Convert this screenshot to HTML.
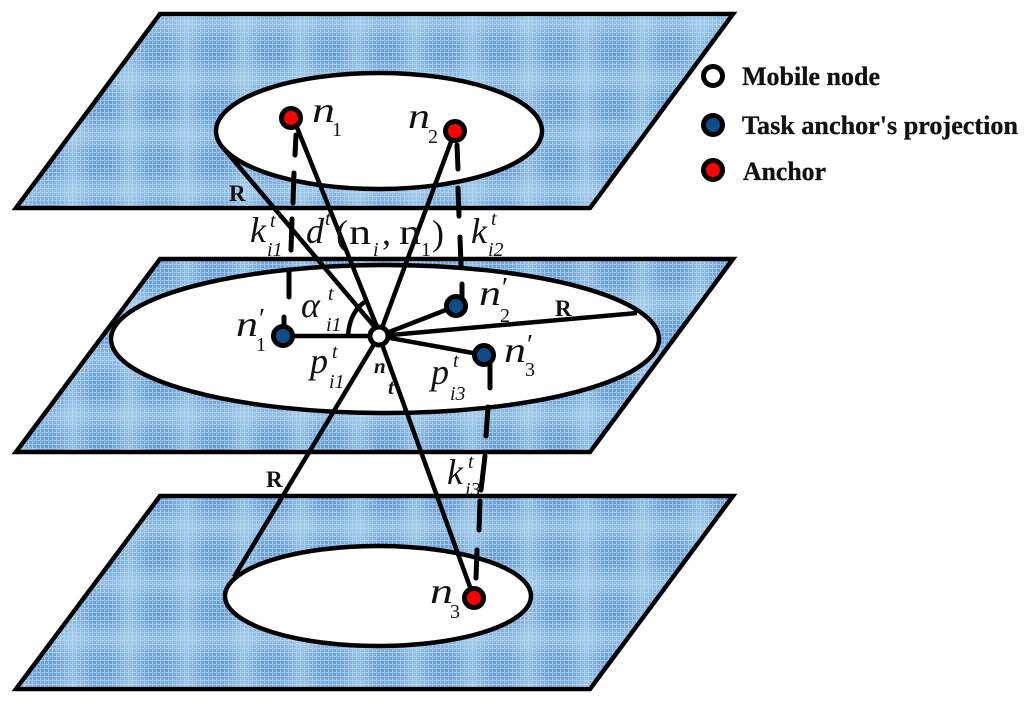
<!DOCTYPE html>
<html><head><meta charset="utf-8"><style>
html,body{margin:0;padding:0;background:#fff}
svg{display:block}
text{font-family:"Liberation Serif",serif;fill:#111}
.m{font-style:italic;font-size:36px}
.r{font-size:36px}
.s{font-size:20px}
.t{font-style:italic;font-size:20px}
.b{font-weight:bold;font-size:26px;stroke:#111;stroke-width:.3px}
.R{font-weight:bold;font-size:23px}
.B{font-weight:bold;font-style:italic;font-size:21px}
</style></head><body>
<svg width="1024" height="707" viewBox="0 0 1024 707" xmlns="http://www.w3.org/2000/svg">
<defs>
<linearGradient id="vb" x1="0" x2="1" y1="0" y2="0"><stop offset="0" stop-color="#c4e4f8" stop-opacity="0"/><stop offset=".5" stop-color="#c4e4f8" stop-opacity=".42"/><stop offset="1" stop-color="#c4e4f8" stop-opacity="0"/></linearGradient>
<linearGradient id="hb" x1="0" x2="0" y1="0" y2="1"><stop offset="0" stop-color="#c4e4f8" stop-opacity="0"/><stop offset=".5" stop-color="#c4e4f8" stop-opacity=".42"/><stop offset="1" stop-color="#c4e4f8" stop-opacity="0"/></linearGradient>
<pattern id="g" width="4" height="4" patternUnits="userSpaceOnUse">
<rect width="4" height="4" fill="#6e9fd3"/><rect width="1" height="4" fill="#98c1e8"/><rect width="4" height="1" fill="#98c1e8"/>
</pattern>
<pattern id="p" x="102" y="499" width="57" height="56" patternUnits="userSpaceOnUse">
<rect x="8" width="40" height="56" fill="url(#vb)"/>
<rect y="8" width="57" height="40" fill="url(#hb)"/>
</pattern>
</defs>
<rect width="1024" height="707" fill="#fff"/>
<g stroke="#000" stroke-width="4.5">
<polygon fill="url(#g)" points="160,14 733,14 590,208 16,208"/>
<polygon fill="url(#g)" points="160,259 733,259 590,452 16,452"/>
<polygon fill="url(#g)" points="160,496 733,496 590,689 16,689"/>
</g>
<g fill="url(#p)">
<polygon points="161,16 729,16 589,206 20,206"/>
<polygon points="161,261 729,261 589,450 20,450"/>
<polygon points="161,498 729,498 589,687 20,687"/>
</g>
<g stroke="#000" stroke-width="4.5" fill="#fff">
<ellipse cx="379" cy="131" rx="163" ry="58"/>
<ellipse cx="385" cy="339" rx="274" ry="74"/>
<ellipse cx="378" cy="596" rx="153" ry="50"/>
</g>
<g stroke="#000" stroke-width="4.5" fill="none">
<line x1="225" y1="150" x2="379" y2="332"/>
<line x1="296" y1="125" x2="379" y2="332"/>
<line x1="379" y1="336" x2="455" y2="131"/>
<line x1="379" y1="336" x2="456" y2="306"/>
<line x1="379" y1="336" x2="637" y2="313"/>
<line x1="379" y1="336" x2="484" y2="355"/>
<line x1="379" y1="336" x2="283" y2="336"/>
<line x1="379" y1="336" x2="234" y2="577"/>
<line x1="379" y1="336" x2="474" y2="598"/>
<path d="M348,336 C349,320 355,308 366,301"/>
</g>
<g stroke="#000" stroke-width="5" stroke-linecap="round" fill="none">
<path d="M296,135 L295,155 M294,173 L293,203 M292,219 L291,250 M289,270 L289,297 M284,317 L284,330"/>
<path d="M457,145 L458,169 M458,188 L459,216 M460,237 L461,265 M462,284 L462,306"/>
<path d="M490,365 L490,388 M488,407 L486,436 M485,456 L481,490 M480,501 L479,530 M477,550 L476,578"/>
</g>
<g stroke="#000" stroke-width="5">
<circle cx="291" cy="118" r="9.5" fill="#f00"/>
<circle cx="455" cy="131" r="9.5" fill="#f00"/>
<circle cx="474" cy="598" r="9.5" fill="#f00"/>
<circle cx="283" cy="336" r="9.5" fill="#0f4c8a"/>
<circle cx="456" cy="306" r="9.5" fill="#0f4c8a"/>
<circle cx="484" cy="355" r="9.5" fill="#0f4c8a"/>
<circle cx="379" cy="336" r="9" fill="#fff"/>
<circle cx="713" cy="76" r="9.5" fill="#fff"/>
<circle cx="713" cy="125" r="9.5" fill="#0f4c8a"/>
<circle cx="713" cy="170" r="9.5" fill="#f00"/>
</g>
<text class="b" x="742" y="85" textLength="138" lengthAdjust="spacingAndGlyphs">Mobile node</text>
<text class="b" x="742" y="134" textLength="276" lengthAdjust="spacingAndGlyphs">Task anchor's projection</text>
<text class="b" x="743" y="180" textLength="83" lengthAdjust="spacingAndGlyphs">Anchor</text>
<text class="R" x="229" y="201">R</text>
<text class="R" x="555" y="316">R</text>
<text class="R" x="266" y="487">R</text>
<text class="m" x="312" y="122" textLength="23" lengthAdjust="spacingAndGlyphs">n</text><text class="s" x="332" y="136">1</text>
<text class="m" x="408" y="128" textLength="22" lengthAdjust="spacingAndGlyphs">n</text><text class="s" x="428" y="143">2</text>
<text class="m" x="430" y="603" textLength="23" lengthAdjust="spacingAndGlyphs">n</text><text class="s" x="450" y="618">3</text>
<text class="m" x="236" y="336" textLength="22" lengthAdjust="spacingAndGlyphs">n</text><text x="259" y="328" style="font-size:28px">′</text><text class="s" x="256" y="351">1</text>
<text class="m" x="479" y="305" textLength="22" lengthAdjust="spacingAndGlyphs">n</text><text x="502" y="297" style="font-size:28px">′</text><text class="s" x="500" y="322">2</text>
<text class="m" x="504" y="362" textLength="22" lengthAdjust="spacingAndGlyphs">n</text><text x="527" y="354" style="font-size:28px">′</text><text class="s" x="525" y="376">3</text>
<text class="m" x="250" y="242">k</text><text class="t" x="270" y="227">t</text><text class="t" x="267" y="256">i1</text>
<text class="m" x="471" y="243">k</text><text class="t" x="491" y="225">t</text><text class="t" x="488" y="256">i2</text>
<text class="m" x="447" y="484">k</text><text class="t" x="468" y="468">t</text><text class="t" x="465" y="496">i3</text>
<text class="m" x="306" y="243">d</text><text class="t" x="325" y="225">t</text>
<text class="r" x="336" y="245">(</text><text class="r" x="349" y="244" textLength="22" lengthAdjust="spacingAndGlyphs">n</text><text class="t" x="373" y="256">i</text><text class="r" x="382" y="244">,</text><text class="r" x="399" y="244" textLength="22" lengthAdjust="spacingAndGlyphs">n</text><text class="s" x="421" y="256">1</text><text class="r" x="432" y="245">)</text>
<text class="m" x="301" y="317">α</text><text class="t" x="328" y="300">t</text><text class="t" x="326" y="331">i1</text>
<text class="m" x="310" y="373">p</text><text class="t" x="332" y="358">t</text><text class="t" x="329" y="388">i1</text>
<text class="m" x="431" y="384">p</text><text class="t" x="453" y="367">t</text><text class="t" x="450" y="400">i3</text>
<text class="B" x="374" y="373">n</text>
<text class="B" x="388" y="394">t</text>
</svg>
</body></html>
